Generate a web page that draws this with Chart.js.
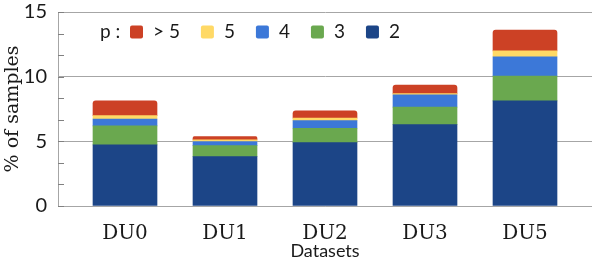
<!DOCTYPE html>
<html>
<head>
<meta charset="utf-8">
<script src="https://cdn.jsdelivr.net/npm/chart.js@4"></script>
<style>
  html, body { margin: 0; padding: 0; background: #fff; }
  #wrap { width: 592px; height: 262px; }
</style>
</head>
<body>
<div id="wrap"><canvas id="chart"></canvas></div>
<script>
// Data
const categories = ['DU0', 'DU1', 'DU2', 'DU3', 'DU5'];
const seriesLabels = ['2', '3', '4', '5', '> 5'];
const p2 = [4.72, 3.82, 4.90, 6.29, 8.13];
const p3 = [1.47, 0.85, 1.11, 1.35, 1.91];
const p4 = [0.54, 0.31, 0.59, 0.95, 1.49];
const p5 = [0.26, 0.13, 0.19, 0.10, 0.47];
const pMore = [1.14, 0.25, 0.56, 0.65, 1.60];
const yTicks = [0, 5, 10, 15];
const yMinorStep = 5 / 3;

const colors = ['#1c4587', '#6aa84f', '#3c78d8', '#ffd966', '#cc4125'];
const sans = 'Lato';
const serif = 'DejaVu Serif';
const gridColor = '#a6a6a6';

const toPoints = arr => arr.map((v, i) => ({ x: i, y: v }));
const datasets = [p2, p3, p4, p5, pMore].map((arr, i) => ({
    label: seriesLabels[i],
    data: toPoints(arr),
    backgroundColor: colors[i],
    borderWidth: 0,
    borderRadius: i === 4 ? { topLeft: 3, topRight: 3 } : 0,
    borderSkipped: false,
    barThickness: 64
}));

// minor ticks drawn inside the plot on the y axis, plus the inline legend
const extrasPlugin = {
    id: 'extras',
    afterDraw(chart) {
        const { ctx, chartArea, scales } = chart;
        const y = scales.y;
        ctx.save();
        ctx.strokeStyle = '#808080';
        ctx.lineWidth = 1;
        for (let v = 0; v <= 15.001; v += yMinorStep) {
            const py = Math.round(y.getPixelForValue(v)) + 0.5;
            ctx.beginPath();
            ctx.moveTo(chartArea.left, py);
            ctx.lineTo(chartArea.left + 6, py);
            ctx.stroke();
        }

        // legend: "p :" then series in reverse order
        ctx.font = '19px ' + sans;
        ctx.textBaseline = 'middle';
        ctx.fillStyle = '#1a1a1a';
        const cy = chartArea.top + 20;
        let x = chartArea.left + 42;
        ctx.fillText('p :', x, cy);
        x += 30;
        for (let i = chart.data.datasets.length - 1; i >= 0; i--) {
            const ds = chart.data.datasets[i];
            ctx.fillStyle = ds.backgroundColor;
            ctx.beginPath();
            ctx.roundRect(x, cy - 6.5, 13, 13, 2);
            ctx.fill();
            x += 23;
            ctx.fillStyle = '#1a1a1a';
            ctx.fillText(ds.label, x, cy);
            x += ctx.measureText(ds.label).width + 21;
        }
        ctx.restore();
    }
};

new Chart(document.getElementById('chart'), {
    type: 'bar',
    data: { datasets },
    options: {
        responsive: true,
        maintainAspectRatio: false,
        animation: false,
        layout: { padding: { top: 12, right: 0, left: 0, bottom: 0 } },
        plugins: {
            legend: { display: false },
            tooltip: { enabled: false }
        },
        scales: {
            x: {
                type: 'linear',
                stacked: true,
                offset: false,
                min: -0.67,
                max: 4.67,
                grid: { display: false, drawTicks: false },
                border: { display: true, color: gridColor },
                afterBuildTicks: scale => {
                    scale.ticks = categories.map((_, i) => ({ value: i }));
                },
                afterFit: scale => {
                    scale.height = 56;
                    scale.paddingLeft = 0;
                    scale.paddingRight = 0;
                },
                ticks: {
                    autoSkip: false,
                    maxRotation: 0,
                    padding: 16,
                    color: '#1a1a1a',
                    font: { family: serif, size: 20 },
                    callback: v => categories[v]
                },
                title: {
                    display: true,
                    text: 'Datasets',
                    color: '#1a1a1a',
                    font: { family: sans, size: 18 },
                    padding: { top: 0, bottom: 0 }
                }
            },
            y: {
                stacked: true,
                min: 0,
                max: 15,
                afterBuildTicks: scale => {
                    scale.ticks = yTicks.map(v => ({ value: v }));
                },
                afterFit: scale => {
                    scale.width = 58;
                    scale.paddingTop = 0;
                    scale.paddingBottom = 0;
                },
                grid: { color: gridColor, drawTicks: false },
                border: { display: true, color: gridColor },
                ticks: {
                    padding: 11,
                    color: '#1a1a1a',
                    font: { family: sans, size: 20 }
                },
                title: {
                    display: true,
                    text: '% of samples',
                    color: '#1a1a1a',
                    font: { family: serif, size: 19 },
                    padding: { top: 2, bottom: 0 }
                }
            }
        }
    },
    plugins: [extrasPlugin]
});
</script>
</body>
</html>
